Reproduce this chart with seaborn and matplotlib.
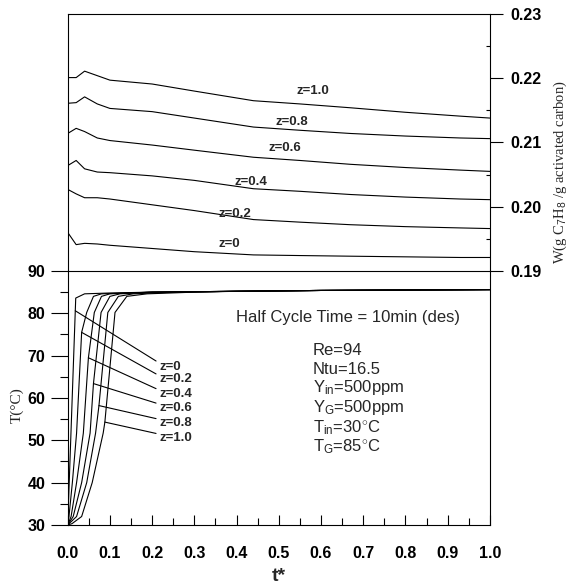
import numpy as np
import matplotlib
matplotlib.use("Agg")
import matplotlib.pyplot as plt
from matplotlib.ticker import MultipleLocator, FormatStrFormatter
import seaborn as sns

# --- adsorbed amount W (top panel) ---
t_w = [0, 0.02, 0.04, 0.07, 0.10, 0.20, 0.30, 0.44, 0.55, 0.67, 0.80, 0.93, 1.0]
w_z10 = [0.2201, 0.2201, 0.2211, 0.2204, 0.2197, 0.2191, 0.2180, 0.2165, 0.2160, 0.2154, 0.2147, 0.2141, 0.2138]
w_z08 = [0.2161, 0.2162, 0.2171, 0.2160, 0.2153, 0.2148, 0.2138, 0.2124, 0.2119, 0.2114, 0.2110, 0.2107, 0.2106]
w_z06 = [0.2114, 0.2122, 0.2117, 0.2107, 0.2103, 0.2096, 0.2088, 0.2077, 0.2072, 0.2066, 0.2061, 0.2057, 0.2055]
w_z04 = [0.2064, 0.2072, 0.2059, 0.2054, 0.2053, 0.2048, 0.2041, 0.2028, 0.2024, 0.2019, 0.2015, 0.2012, 0.2011]
w_z02 = [0.2027, 0.2020, 0.2014, 0.2014, 0.2012, 0.2003, 0.1994, 0.1980, 0.1976, 0.1972, 0.1969, 0.1967, 0.1966]
w_z00 = [0.1960, 0.1941, 0.1943, 0.1942, 0.1940, 0.1935, 0.1930, 0.1925, 0.1924, 0.1923, 0.1922, 0.1921, 0.1921]
w_curves = [w_z00, w_z02, w_z04, w_z06, w_z08, w_z10]
w_labels = ["z=0", "z=0.2", "z=0.4", "z=0.6", "z=0.8", "z=1.0"]
w_label_t = [0.382, 0.395, 0.434, 0.515, 0.530, 0.580]
w_label_w = [0.1942, 0.1989, 0.2039, 0.2091, 0.2132, 0.2180]

# --- bed temperature T (bottom panel) ---
t_T00 = [0, 0.019, 0.04, 0.10, 0.20, 0.40, 0.60, 0.80, 1.0]
T_z00 = [30, 83.6, 84.6, 84.8, 85.0, 85.2, 85.4, 85.5, 85.6]
t_T02 = [0, 0.003, 0.011, 0.021, 0.033, 0.045, 0.061, 0.08, 0.20, 0.40, 0.60, 0.80, 1.0]
T_z02 = [30, 32, 40, 51.7, 75.5, 80.2, 84.0, 84.6, 85.0, 85.2, 85.4, 85.5, 85.6]
t_T04 = [0, 0.008, 0.021, 0.037, 0.049, 0.063, 0.08, 0.10, 0.20, 0.40, 0.60, 0.80, 1.0]
T_z04 = [30, 32, 40, 51.7, 69.5, 80.2, 84.0, 84.6, 85.0, 85.2, 85.4, 85.5, 85.6]
t_T06 = [0, 0.013, 0.033, 0.053, 0.061, 0.079, 0.10, 0.124, 0.20, 0.40, 0.60, 0.80, 1.0]
T_z06 = [30, 32, 40, 51.7, 63.4, 80.2, 84.0, 84.6, 85.0, 85.2, 85.4, 85.5, 85.6]
t_T08 = [0, 0.021, 0.045, 0.066, 0.074, 0.095, 0.12, 0.155, 0.25, 0.40, 0.60, 0.80, 1.0]
T_z08 = [30, 32, 40, 51.7, 58.2, 80.2, 84.0, 84.6, 85.0, 85.2, 85.4, 85.5, 85.6]
t_T10 = [0, 0.01, 0.033, 0.058, 0.084, 0.088, 0.112, 0.14, 0.188, 0.30, 0.40, 0.60, 0.80, 1.0]
T_z10 = [30, 30.3, 32, 40, 51.7, 54.3, 80.2, 84.0, 84.6, 85.0, 85.2, 85.4, 85.5, 85.6]
T_curves = [(t_T00, T_z00), (t_T02, T_z02), (t_T04, T_z04),
            (t_T06, T_z06), (t_T08, T_z08), (t_T10, T_z10)]
T_anchor = [80.6, 75.5, 69.5, 63.4, 58.2, 54.3]
T_label_t = 0.217
T_label_T = [67.4, 64.4, 61.0, 57.7, 54.1, 50.6]

params = ["Re=94", "Ntu=16.5", r"Y$_{\rm in}$=500ppm", r"Y$_{\rm G}$=500ppm",
          r"T$_{\rm in}$=30$^{\circ}$C", r"T$_{\rm G}$=85$^{\circ}$C"]
params_T = [71.3, 66.8, 62.4, 57.8, 53.1, 48.5]

sns.set_style("ticks")
plt.rcParams['font.family'] = ['Liberation Sans', 'DejaVu Sans']
plt.rcParams['mathtext.fontset'] = 'custom'
plt.rcParams['mathtext.rm'] = 'Liberation Sans'
plt.rcParams['mathtext.it'] = 'Liberation Sans:italic'
plt.rcParams['mathtext.bf'] = 'Liberation Sans:bold'
plt.rcParams['axes.edgecolor'] = 'black'
plt.rcParams['axes.linewidth'] = 0.8
plt.rcParams['xtick.color'] = 'black'
plt.rcParams['ytick.color'] = 'black'

fig = plt.figure(figsize=(5.69, 5.85), dpi=100)
ax_w = fig.add_axes([0.119, 0.5368, 0.742, 0.4393])
ax_t = fig.add_axes([0.119, 0.1026, 0.742, 0.4342])

# top panel
for w in w_curves:
    sns.lineplot(x=t_w, y=w, ax=ax_w, color='black', linewidth=0.8, sort=False)
for lab, lt, lw_ in zip(w_labels, w_label_t, w_label_w):
    ax_w.text(lt, lw_, lab, ha='center', va='center', fontsize=9.5, fontweight='bold')
ax_w.set_xlim(0, 1)
ax_w.set_ylim(0.19, 0.23)
ax_w.set_xticks([])
ax_w.spines['bottom'].set_visible(False)
ax_w.yaxis.set_major_locator(MultipleLocator(0.01))
ax_w.yaxis.set_minor_locator(MultipleLocator(0.005))
ax_w.yaxis.set_major_formatter(FormatStrFormatter('%.2f'))
ax_w.tick_params(axis='y', which='both', left=False, right=True,
                 labelleft=False, labelright=True)
ax_w.tick_params(axis='y', which='major', direction='out', length=9, width=0.8,
                 labelsize=11.5, pad=6)
ax_w.tick_params(axis='y', which='minor', direction='in', length=3, width=0.8)
for lab in ax_w.get_yticklabels():
    lab.set_fontweight('bold')
ax_w.set_ylabel('')
fig.text(0.984, 0.706, r'W(g C$_{\rm 7}$H$_{\rm 8}$ /g activated carbon)', rotation=90,
         ha='center', va='center', fontsize=10.5, family=['Liberation Serif'])

# bottom panel
for tt, TT in T_curves:
    sns.lineplot(x=tt, y=TT, ax=ax_t, color='black', linewidth=0.8, sort=False)
for (tt, TT), ta, tl, lab in zip(T_curves, T_anchor, T_label_T, w_labels):
    t_anchor = np.interp(ta, TT, tt)
    ax_t.annotate(lab, xy=(t_anchor, ta), xytext=(T_label_t, tl),
                  ha='left', va='center', fontsize=9.5, fontweight='bold',
                  arrowprops=dict(arrowstyle='-', color='black', lw=0.8,
                                  shrinkA=0, shrinkB=0, relpos=(0.0, 0.8)))
ax_t.text(0.398, 79.1, "Half Cycle Time = 10min (des)", ha='left', va='center', fontsize=12)
for p, pT in zip(params, params_T):
    ax_t.text(0.581, pT, p, ha='left', va='center', fontsize=12)

ax_t.set_xlim(0, 1)
ax_t.set_ylim(30, 90)
ax_t.xaxis.set_major_locator(MultipleLocator(0.1))
ax_t.xaxis.set_minor_locator(MultipleLocator(0.05))
ax_t.xaxis.set_major_formatter(FormatStrFormatter('%.1f'))
ax_t.yaxis.set_major_locator(MultipleLocator(10))
ax_t.yaxis.set_minor_locator(MultipleLocator(5))
ax_t.tick_params(axis='x', which='both', direction='in', top=False, width=0.8)
ax_t.tick_params(axis='x', which='major', length=7, labelsize=11.5, pad=15)
ax_t.tick_params(axis='x', which='minor', length=5)
ax_t.tick_params(axis='y', which='both', direction='out', right=False, width=0.8)
ax_t.tick_params(axis='y', which='major', length=12, labelsize=11.5, pad=4)
ax_t.tick_params(axis='y', which='minor', length=6)
for lab in ax_t.get_xticklabels() + ax_t.get_yticklabels():
    lab.set_fontweight('bold')
ax_t.set_xlabel('t*', fontsize=14, fontweight='bold', labelpad=5)
ax_t.set_ylabel('T(°C)', fontsize=11, family=['Liberation Serif'])
ax_t.yaxis.set_label_coords(-0.105, 0.47)

fig.savefig('out.png', dpi=100)
